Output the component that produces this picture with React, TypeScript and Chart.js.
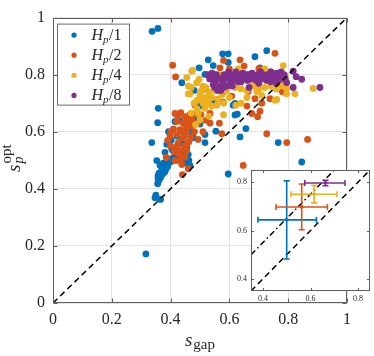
import React, { useEffect, useRef } from 'react';
import { Chart, registerables } from 'chart.js';

Chart.register(...registerables);

// ---------------- data ----------------
const seriesNames = ['1', '2', '4', '8'];
const seriesColors = ['#0072BD', '#D95319', '#EDB120', '#7E2F8E'];

const hp1X = [0.316,0.337,0.357,0.347,0.366,0.350,0.358,0.362,0.370,0.381,0.358,0.364,0.375,0.353,0.381,0.387,0.409,0.404,0.421,0.438,0.415,0.358,0.356,0.336,0.438,0.497,0.528,0.545,0.577,0.596,0.727,0.687,0.596,0.704,0.517,0.613,0.517,0.554,0.477,0.466,0.596,0.636,0.656,0.627,0.766,0.846,0.619,0.619,0.500,0.517,0.420,0.430,0.440,0.395,0.372,0.455,0.460,0.470,0.490,0.500,0.430,0.545,0.580,0.620,0.660,0.750,0.560,0.480,
  0.356,0.360,0.365,0.368,0.375,0.385,0.390,0.357,0.361,0.371,0.392,0.401,0.411,0.426,0.446,0.451,0.462,0.432,0.447,0.402,0.393];
const hp1Y = [0.172,0.952,0.962,0.369,0.363,0.378,0.426,0.440,0.450,0.460,0.448,0.482,0.490,0.499,0.528,0.556,0.533,0.540,0.585,0.568,0.636,0.682,0.632,0.562,0.772,0.824,0.852,0.832,0.873,0.873,0.884,0.863,0.843,0.824,0.801,0.693,0.590,0.602,0.579,0.482,0.452,0.582,0.611,0.662,0.562,0.494,0.699,0.659,0.627,0.562,0.500,0.515,0.530,0.505,0.470,0.545,0.520,0.600,0.650,0.690,0.640,0.700,0.740,0.780,0.800,0.780,0.790,0.745,
  0.418,0.430,0.438,0.445,0.455,0.470,0.478,0.440,0.455,0.468,0.490,0.495,0.510,0.520,0.510,0.490,0.500,0.560,0.585,0.570,0.600];

const hp2X = [0.407,0.417,0.415,0.435,0.449,0.421,0.443,0.460,0.432,0.455,0.398,0.443,0.426,0.455,0.432,0.449,0.415,0.438,0.449,0.455,0.755,0.636,0.568,0.676,0.704,0.696,0.608,0.566,0.574,0.727,0.795,0.866,0.647,0.494,0.483,0.534,0.534,0.738,0.772,0.687,0.664,0.579,0.470,0.480,0.500,0.520,0.550,0.600,0.650,0.700,0.740,0.620,0.470,0.460,0.440,0.430,0.400,0.385,0.510,0.580,0.660,0.600,0.550,0.465,0.425,0.410,0.450,0.780,0.710,0.520,
  0.390,0.401,0.422,0.441,0.452,0.463,0.472,0.433,0.444,0.462,0.421,0.412,0.481,0.492,0.503];
const hp2Y = [0.833,0.792,0.664,0.667,0.653,0.636,0.630,0.636,0.607,0.602,0.585,0.579,0.562,0.556,0.533,0.511,0.499,0.485,0.551,0.533,0.875,0.852,0.824,0.664,0.672,0.653,0.725,0.630,0.593,0.593,0.562,0.573,0.482,0.573,0.693,0.664,0.630,0.716,0.770,0.716,0.741,0.704,0.620,0.660,0.710,0.750,0.800,0.820,0.830,0.820,0.810,0.760,0.580,0.470,0.450,0.520,0.550,0.510,0.600,0.850,0.690,0.790,0.760,0.660,0.655,0.610,0.590,0.740,0.700,0.640,
  0.570,0.600,0.590,0.600,0.620,0.645,0.640,0.500,0.540,0.565,0.550,0.530,0.600,0.630,0.660];

const hp4X = [0.475,0.460,0.497,0.783,0.795,0.795,0.823,0.885,0.755,0.710,0.693,0.622,0.500,0.557,0.517,0.500,0.494,0.472,0.489,0.466,0.766,0.761,0.480,0.490,0.500,0.510,0.520,0.530,0.530,0.540,0.550,0.520,0.505,0.510,0.540,0.560,0.575,0.590,0.600,0.620,0.640,0.660,0.680,0.700,0.720,0.740,0.760,0.780,0.660,0.640,0.580,0.600,0.565,0.600,0.550,0.490,0.470,0.485,0.455,0.530,0.580,0.460,0.470,0.745,0.770,0.680,0.705,0.790,0.630,0.720];
const hp4Y = [0.815,0.733,0.784,0.832,0.752,0.733,0.733,0.752,0.710,0.727,0.741,0.693,0.721,0.693,0.682,0.642,0.664,0.812,0.772,0.733,0.772,0.713,0.700,0.710,0.730,0.700,0.720,0.740,0.700,0.720,0.745,0.755,0.745,0.760,0.690,0.715,0.730,0.745,0.760,0.755,0.750,0.745,0.760,0.750,0.755,0.760,0.750,0.760,0.720,0.700,0.700,0.720,0.800,0.800,0.780,0.680,0.665,0.625,0.790,0.655,0.660,0.760,0.755,0.800,0.790,0.780,0.785,0.795,0.820,0.820];

const hp8X = [0.527,0.533,0.541,0.546,0.552,0.556,0.561,0.567,0.571,0.577,0.582,0.586,0.592,0.597,0.601,0.607,0.612,0.616,0.622,0.627,0.631,0.637,0.642,0.646,0.651,0.657,0.662,0.666,0.672,0.677,0.681,0.686,0.692,0.697,0.702,0.706,0.711,0.716,0.722,0.727,0.731,0.737,0.741,0.746,0.751,0.756,0.761,0.766,0.771,0.776,0.781,0.786,0.790,0.795,0.817,0.827,0.846,0.817,0.908,0.667,0.550,0.560,0.580,0.545,0.600,0.610,0.640,0.700,0.740,0.760];
const hp8Y = [0.800,0.785,0.805,0.790,0.775,0.800,0.760,0.785,0.745,0.770,0.800,0.785,0.760,0.810,0.790,0.775,0.800,0.785,0.810,0.790,0.775,0.800,0.790,0.805,0.785,0.795,0.780,0.800,0.790,0.805,0.785,0.795,0.780,0.800,0.790,0.810,0.785,0.800,0.790,0.780,0.800,0.790,0.810,0.785,0.800,0.790,0.805,0.780,0.795,0.810,0.790,0.800,0.785,0.772,0.812,0.793,0.784,0.755,0.755,0.755,0.755,0.745,0.755,0.765,0.765,0.760,0.775,0.770,0.775,0.770];

const diagX = [0, 1];
const diagY = [0, 1];

// inset (mean ± spread per series)
const insetMeanX = [0.500, 0.563, 0.615, 0.663];
const insetMeanY = [0.644, 0.697, 0.750, 0.796];
const insetXLo = [0.379, 0.455, 0.518, 0.576];
const insetXHi = [0.625, 0.671, 0.711, 0.745];
const insetYLo = [0.482, 0.603, 0.714, 0.785];
const insetYHi = [0.805, 0.792, 0.787, 0.807];
const insetIdX = [0.35, 0.85];
const insetIdY = [0.35, 0.85];
const insetOffX = [0.35, 0.70];
const insetOffY = [0.50, 0.85];
const insetTicks = [0.4, 0.6, 0.8];

// ---------------- helpers ----------------
const SERIF = '"Liberation Serif", "DejaVu Serif", serif';
const AXIS_COLOR = '#5f5f5f';
const GRID_COLOR = '#e3e3e3';
const TEXT_COLOR = '#262626';

function pts(xs: number[], ys: number[]) {
  const n = Math.min(xs.length, ys.length);
  const out: { x: number; y: number }[] = [];
  for (let i = 0; i < n; i++) out.push({ x: xs[i], y: ys[i] });
  return out;
}

const fmtTick = (v: any) => String(Number(Number(v).toFixed(1)));

function drawFrame(chart: any, tickLen: number) {
  const { ctx, chartArea: a, scales } = chart;
  const x = scales.x, y = scales.y;
  const L = Math.round(a.left) + 0.5, R = Math.round(a.right) - 0.5;
  const T = Math.round(a.top) + 0.5, B = Math.round(a.bottom) - 0.5;
  ctx.save();
  ctx.strokeStyle = AXIS_COLOR;
  ctx.lineWidth = 1;
  ctx.beginPath();
  x.ticks.forEach((t: any) => {
    const px = Math.round(x.getPixelForValue(t.value)) + 0.5;
    ctx.moveTo(px, B); ctx.lineTo(px, B - tickLen);
    ctx.moveTo(px, T); ctx.lineTo(px, T + tickLen);
  });
  y.ticks.forEach((t: any) => {
    const py = Math.round(y.getPixelForValue(t.value)) + 0.5;
    ctx.moveTo(L, py); ctx.lineTo(L + tickLen, py);
    ctx.moveTo(R, py); ctx.lineTo(R - tickLen, py);
  });
  ctx.stroke();
  ctx.strokeRect(L, T, R - L, B - T);
  ctx.restore();
}

const mainFrame = {
  id: 'mainFrame',
  afterDraw(chart: any) {
    drawFrame(chart, 4);
    const { ctx, chartArea: a } = chart;
    // legend
    const bx = a.left + 4.5, by = a.top + 6.5, bw = 72, bh = 81;
    ctx.save();
    ctx.fillStyle = '#ffffff';
    ctx.fillRect(bx, by, bw, bh);
    ctx.strokeStyle = '#6a6a6a';
    ctx.lineWidth = 1;
    ctx.strokeRect(bx, by, bw, bh);
    ctx.textBaseline = 'alphabetic';
    ctx.textAlign = 'left';
    seriesNames.forEach((name, i) => {
      const cy = by + 11 + i * 20.1;
      ctx.fillStyle = seriesColors[i];
      ctx.beginPath();
      ctx.arc(bx + 16.5, cy, 2.6, 0, Math.PI * 2);
      ctx.fill();
      ctx.fillStyle = TEXT_COLOR;
      let tx = bx + 34;
      const base = cy + 4.5;
      ctx.font = `italic 16px ${SERIF}`;
      ctx.fillText('H', tx, base);
      tx += ctx.measureText('H').width;
      ctx.font = `italic 11px ${SERIF}`;
      ctx.fillText('p', tx, base + 3);
      tx += ctx.measureText('p').width + 0.5;
      ctx.font = `16px ${SERIF}`;
      ctx.fillText('/' + name, tx, base);
    });
    // x label
    ctx.fillStyle = TEXT_COLOR;
    ctx.font = `italic 19px ${SERIF}`;
    const sW = ctx.measureText('s').width;
    ctx.font = `15px ${SERIF}`;
    const gW = ctx.measureText('gap').width;
    const xl = (a.left + a.right) / 2 - (sW + gW + 1) / 2;
    ctx.font = `italic 19px ${SERIF}`;
    ctx.fillText('s', xl, 346);
    ctx.font = `15px ${SERIF}`;
    ctx.fillText('gap', xl + sW + 1, 349);
    // y label (rotated)
    ctx.translate(20, 172);
    ctx.rotate(-Math.PI / 2);
    ctx.font = `italic 19px ${SERIF}`;
    ctx.fillText('s', 0, 0);
    const s2 = ctx.measureText('s').width + 1;
    ctx.font = `15px ${SERIF}`;
    ctx.fillText('opt', s2, -9);
    ctx.font = `italic 14px ${SERIF}`;
    ctx.fillText('p', s2, 3);
    ctx.restore();
  },
};

const insetFrame = {
  id: 'insetFrame',
  beforeDraw(chart: any) {
    const { ctx, chartArea: a } = chart;
    ctx.save();
    ctx.fillStyle = '#ffffff';
    ctx.fillRect(a.left, a.top, a.right - a.left, a.bottom - a.top);
    ctx.restore();
  },
  afterDatasetsDraw(chart: any) {
    const { ctx, scales } = chart;
    const x = scales.x, y = scales.y;
    const cap = 3;
    ctx.save();
    ctx.lineWidth = 1.6;
    for (let i = 0; i < insetMeanX.length; i++) {
      ctx.strokeStyle = seriesColors[i];
      const cx = x.getPixelForValue(insetMeanX[i]);
      const cy = y.getPixelForValue(insetMeanY[i]);
      const x0 = x.getPixelForValue(insetXLo[i]);
      const x1 = x.getPixelForValue(insetXHi[i]);
      const y0 = y.getPixelForValue(insetYLo[i]);
      const y1 = y.getPixelForValue(insetYHi[i]);
      ctx.beginPath();
      ctx.moveTo(cx, y0); ctx.lineTo(cx, y1);
      ctx.moveTo(cx - cap, y0); ctx.lineTo(cx + cap, y0);
      ctx.moveTo(cx - cap, y1); ctx.lineTo(cx + cap, y1);
      ctx.moveTo(x0, cy); ctx.lineTo(x1, cy);
      ctx.moveTo(x0, cy - cap); ctx.lineTo(x0, cy + cap);
      ctx.moveTo(x1, cy - cap); ctx.lineTo(x1, cy + cap);
      ctx.stroke();
    }
    ctx.restore();
  },
  afterDraw(chart: any) {
    drawFrame(chart, 2.5);
  },
};

export default function App() {
  const mainRef = useRef<HTMLCanvasElement | null>(null);
  const insetRef = useRef<HTMLCanvasElement | null>(null);

  useEffect(() => {
    document.body.style.margin = '0';
    if (!mainRef.current || !insetRef.current) return;

    const seriesData = [pts(hp1X, hp1Y), pts(hp2X, hp2Y), pts(hp4X, hp4Y), pts(hp8X, hp8Y)];

    const main = new Chart(mainRef.current, {
      type: 'scatter',
      data: {
        datasets: [
          {
            label: 'diag',
            data: pts(diagX, diagY),
            showLine: true,
            borderColor: '#000000',
            borderWidth: 1.5,
            borderDash: [6, 4],
            pointRadius: 0,
            order: 0,
          } as any,
          ...seriesData.map((d, i) => ({
            label: 'Hp/' + seriesNames[i],
            data: d,
            pointRadius: 3.4,
            pointBorderWidth: 0,
            pointBackgroundColor: seriesColors[i],
            borderColor: seriesColors[i],
            backgroundColor: seriesColors[i],
            order: 4 - i,
          })),
        ],
      },
      options: {
        animation: false,
        responsive: false,
        maintainAspectRatio: false,
        devicePixelRatio: 1,
        layout: { padding: { left: 0, right: 27, top: 10, bottom: 0 } },
        plugins: { legend: { display: false }, tooltip: { enabled: false } },
        scales: {
          x: {
            type: 'linear',
            min: 0,
            max: 1,
            ticks: { stepSize: 0.2, font: { family: SERIF, size: 16 }, color: TEXT_COLOR, padding: 7, maxRotation: 0, callback: fmtTick },
            grid: { color: GRID_COLOR, drawTicks: false, lineWidth: 1 },
            border: { display: false },
            afterFit: (s: any) => { s.height = 53; },
          },
          y: {
            type: 'linear',
            min: 0,
            max: 1,
            ticks: { stepSize: 0.2, font: { family: SERIF, size: 16 }, color: TEXT_COLOR, padding: 8, callback: fmtTick },
            grid: { color: GRID_COLOR, drawTicks: false, lineWidth: 1 },
            border: { display: false },
            afterFit: (s: any) => { s.width = 53; },
          },
        },
      } as any,
      plugins: [mainFrame],
    });

    const inset = new Chart(insetRef.current, {
      type: 'scatter',
      data: {
        datasets: [
          {
            label: 'id',
            data: pts(insetIdX, insetIdY),
            showLine: true,
            borderColor: '#000000',
            borderWidth: 1.5,
            borderDash: [6, 4],
            pointRadius: 0,
          } as any,
          {
            label: 'offset',
            data: pts(insetOffX, insetOffY),
            showLine: true,
            borderColor: '#000000',
            borderWidth: 1.5,
            borderDash: [6, 3, 1.5, 3],
            pointRadius: 0,
          } as any,
          {
            label: 'means',
            data: pts(insetMeanX, insetMeanY),
            pointRadius: 1.8,
            pointBorderWidth: 0,
            pointBackgroundColor: seriesColors,
            order: -1,
          } as any,
        ],
      },
      options: {
        animation: false,
        responsive: false,
        maintainAspectRatio: false,
        devicePixelRatio: 1,
        layout: { padding: { left: 0, right: 3, top: 10, bottom: 0 } },
        plugins: { legend: { display: false }, tooltip: { enabled: false } },
        scales: {
          x: {
            type: 'linear',
            min: 0.35,
            max: 0.85,
            afterBuildTicks: (s: any) => { s.ticks = insetTicks.map((v) => ({ value: v })); },
            ticks: { font: { family: SERIF, size: 8 }, color: TEXT_COLOR, padding: 3, maxRotation: 0, callback: (v: any) => Number(v).toFixed(1) },
            grid: { display: false, drawTicks: false },
            border: { display: false },
            afterFit: (s: any) => { s.height = 15; },
          },
          y: {
            type: 'linear',
            min: 0.35,
            max: 0.85,
            afterBuildTicks: (s: any) => { s.ticks = insetTicks.map((v) => ({ value: v })); },
            ticks: { font: { family: SERIF, size: 8 }, color: TEXT_COLOR, padding: 4, callback: (v: any) => Number(v).toFixed(1) },
            grid: { display: false, drawTicks: false },
            border: { display: false },
            afterFit: (s: any) => { s.width = 23; },
          },
        },
      } as any,
      plugins: [insetFrame],
    });

    return () => {
      main.destroy();
      inset.destroy();
    };
  }, []);

  return (
    <div style={{ position: 'relative', width: 374, height: 356, background: '#ffffff' }}>
      <canvas ref={mainRef} width={374} height={356} style={{ display: 'block', position: 'absolute', left: 0, top: 0 }} />
      <canvas ref={insetRef} width={146} height={146} style={{ display: 'block', position: 'absolute', left: 228, top: 160 }} />
    </div>
  );
}
